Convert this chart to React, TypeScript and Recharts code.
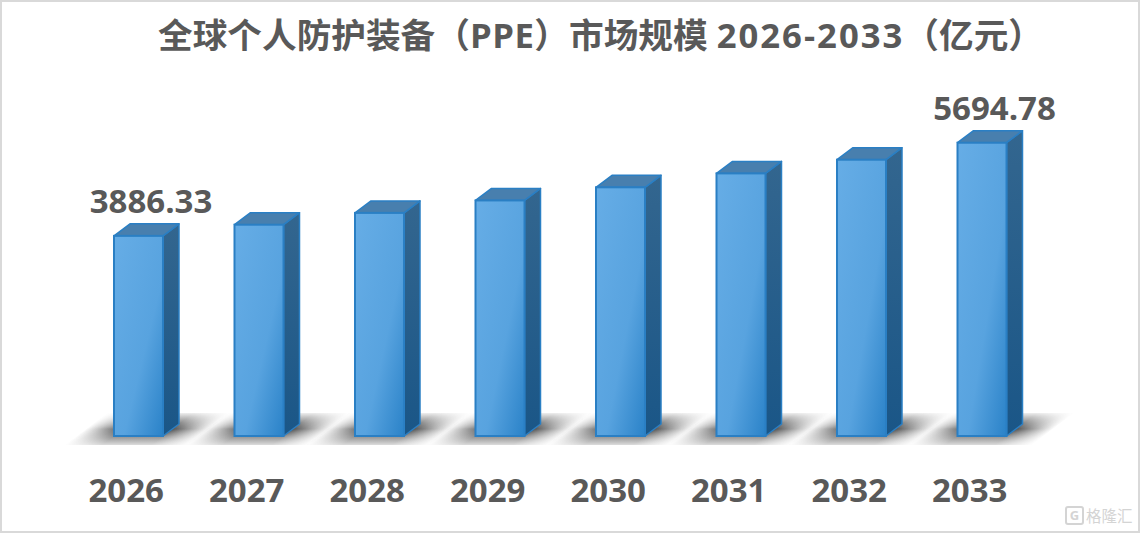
import { BarChart, Bar, XAxis, YAxis } from "recharts";

const years = ["2026", "2027", "2028", "2029", "2030", "2031", "2032", "2033"];
const values = [3886.33, 4103, 4332, 4574, 4829, 5099, 5365, 5694.78];
const labelledYears = ["2026", "2033"];

const data = years.map((year, i) => ({ year, value: values[i] }));

const INK = "#595959";
const FONT = '"Open Sans", "Noto Sans CJK SC", sans-serif';
const DEPTH_X = 16;
const DEPTH_Y = 12;

function Bar3D({ x, y, width, height }: any) {
  const r = x + width;
  const b = y + height;
  return (
    <g>
      <polygon
        points={`${r},${y} ${r + DEPTH_X},${y - DEPTH_Y} ${r + DEPTH_X},${b - DEPTH_Y} ${r},${b}`}
        fill="url(#side)"
        stroke="#2a7fc4"
        strokeWidth={1.5}
        strokeLinejoin="round"
      />
      <polygon
        points={`${x},${y} ${x + DEPTH_X},${y - DEPTH_Y} ${r + DEPTH_X},${y - DEPTH_Y} ${r},${y}`}
        fill="#487fae"
        stroke="#2a7fc4"
        strokeWidth={1.5}
        strokeLinejoin="round"
      />
      <rect x={x} y={y} width={width} height={height} fill="url(#front)" stroke="#2a7fc4" strokeWidth={2} />
    </g>
  );
}

// soft floor shadow, drawn behind all the bars
function FloorShadow({ x, y, width, height }: any) {
  const base = y + height;
  const cx = x + width / 2;
  return (
    <g transform={`translate(${cx - 12},${base + 9}) skewX(-53)`}>
      <rect x={-62} y={-32} width={124} height={32} fill="url(#shadowX)" mask="url(#shadowMask)" />
    </g>
  );
}

function ValueLabel({ x, y, width, index }: any) {
  if (!labelledYears.includes(years[index])) return null;
  return (
    <text
      x={x + width / 2 + 12.5}
      y={y - 22.5}
      textAnchor="middle"
      fill={INK}
      fontFamily={FONT}
      fontWeight={700}
      fontSize={33}
    >
      {values[index].toFixed(2)}
    </text>
  );
}

export default function App() {
  return (
    <div
      style={{
        position: "absolute",
        left: 0,
        top: 0,
        width: 1140,
        height: 533,
        background: "#fff",
        overflow: "hidden",
      }}
    >
      <div
        style={{
          position: "absolute",
          left: 158,
          top: 12,
          whiteSpace: "nowrap",
          color: INK,
          fontFamily: FONT,
          fontWeight: 700,
          fontSize: 34.67,
          lineHeight: "46px",
        }}
      >
        全球个人防护装备（<span style={{ letterSpacing: 0.5 }}>PPE</span>）市场规模{" "}
        <span style={{ letterSpacing: 2 }}>2026-2033</span>（亿元）
      </div>
      <BarChart
        width={1140}
        height={533}
        data={data}
        margin={{ top: 127, right: 98, bottom: 67, left: 78 }}
        barSize={49}
      >
        <defs>
          <linearGradient id="front" x1="0" y1="0" x2="1" y2="1">
            <stop offset="0%" stopColor="#66ade6" />
            <stop offset="60%" stopColor="#58a3df" />
            <stop offset="100%" stopColor="#2a82c8" />
          </linearGradient>
          <linearGradient id="side" x1="0" y1="0" x2="0" y2="1">
            <stop offset="0%" stopColor="#33668f" />
            <stop offset="100%" stopColor="#1a5687" />
          </linearGradient>
          <linearGradient id="shadowX" x1="0" y1="0" x2="1" y2="0">
            <stop offset="0%" stopColor="#333" stopOpacity={0} />
            <stop offset="30%" stopColor="#333" stopOpacity={0.85} />
            <stop offset="70%" stopColor="#333" stopOpacity={0.85} />
            <stop offset="100%" stopColor="#333" stopOpacity={0} />
          </linearGradient>
          <linearGradient id="shadowY" x1="0" y1="0" x2="0" y2="1">
            <stop offset="0%" stopColor="#fff" stopOpacity={0.1} />
            <stop offset="50%" stopColor="#fff" stopOpacity={1} />
            <stop offset="100%" stopColor="#fff" stopOpacity={0.2} />
          </linearGradient>
          <mask id="shadowMask" maskContentUnits="objectBoundingBox" x="0" y="0" width="1" height="1">
            <rect x={0} y={0} width={1} height={1} fill="url(#shadowY)" />
          </mask>
        </defs>
        <XAxis
          dataKey="year"
          axisLine={false}
          tickLine={false}
          interval={0}
          tick={{ fill: INK, fontFamily: FONT, fontWeight: 700, fontSize: 33, dx: -12, dy: 35 }}
        />
        <YAxis hide domain={[0, 6000]} />
        <Bar
          dataKey="value"
          isAnimationActive={false}
          shape={<Bar3D />}
          background={<FloorShadow />}
          label={<ValueLabel />}
        />
      </BarChart>
      <div
        style={{
          position: "absolute",
          left: 1065,
          top: 506,
          width: 15,
          height: 15,
          border: "2px solid #d4d4d4",
          borderRadius: 3,
          color: "#d4d4d4",
          fontFamily: FONT,
          fontWeight: 700,
          fontSize: 13,
          lineHeight: "15px",
          textAlign: "center",
        }}
      >
        G
      </div>
      <div
        style={{
          position: "absolute",
          left: 1086,
          top: 505,
          color: "#d4d4d4",
          fontFamily: FONT,
          fontSize: 15.5,
          lineHeight: "22px",
          whiteSpace: "nowrap",
        }}
      >
        格隆汇
      </div>
      <div
        style={{
          position: "absolute",
          inset: 0,
          boxSizing: "border-box",
          border: "2px solid #d9d9d9",
          pointerEvents: "none",
        }}
      />
    </div>
  );
}
